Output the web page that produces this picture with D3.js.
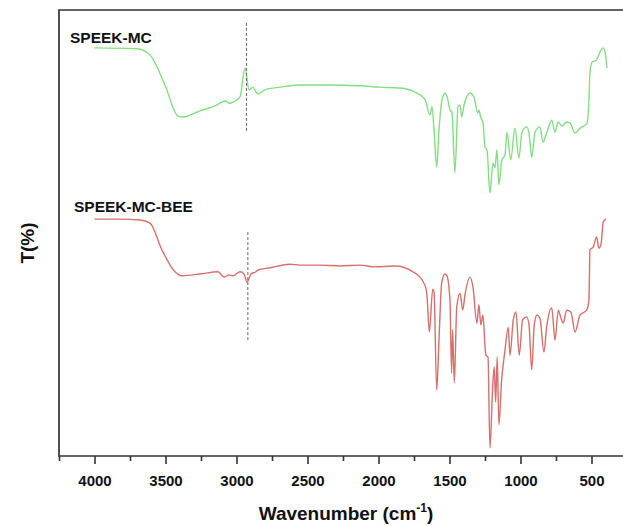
<!DOCTYPE html>
<html><head><meta charset="utf-8">
<script src="https://cdn.jsdelivr.net/npm/d3@7"></script>
<style>html,body{margin:0;padding:0;background:#fff;}svg{display:block;}</style>
</head><body>
<script>
// Wavenumber (cm-1) and relative T(%) values
const mcWave = [4000,3701,3609,3504,3412,3377,3257,3151,3081,3046,3011,2975,2940,2912,2884,2863,2849,2800,2694,2553,2342,2130,1990,1849,1743,1673,1638,1623,1609,1590,1574,1553,1532,1511,1497,1483,1462,1440,1426,1414,1398,1377,1356,1328,1300,1293,1279,1265,1250,1236,1215,1194,1180,1166,1152,1131,1109,1095,1069,1039,1011,990,957,940,921,898,863,842,814,780,757,736,708,675,652,616,581,534,518,511,497,464,440,419,405,391];
const mcT = [91.5,91.3,89.9,83.2,76.2,76.0,77.4,78.5,79.6,79.1,79.6,80.5,87.0,82.1,82.7,81.6,81.2,82.1,82.7,83.2,83.2,83.0,82.7,82.5,81.6,80.0,76.5,78.3,73.1,64.8,73.1,79.8,81.4,79.8,77.6,77.1,63.5,78.3,78.7,76.0,78.7,80.7,81.4,80.5,76.9,77.6,75.8,74.9,69.3,68.6,59.0,65.7,64.6,68.6,60.8,66.4,67.5,72.6,66.4,73.5,66.8,72.6,73.8,72.4,67.0,72.6,73.8,70.4,72.6,75.3,72.6,74.9,74.0,74.9,74.7,72.4,73.5,74.4,79.8,85.9,88.3,88.8,90.6,91.5,90.6,87.0];

const beeWave = [4000,3820,3680,3609,3525,3433,3384,3257,3130,3088,3053,3025,2975,2947,2926,2898,2863,2849,2764,2623,2553,2412,2271,2130,2025,1884,1757,1673,1659,1642,1618,1609,1590,1574,1555,1532,1518,1497,1485,1478,1466,1449,1426,1407,1391,1356,1335,1307,1293,1279,1265,1244,1229,1215,1196,1185,1175,1164,1152,1133,1109,1086,1074,1051,1032,1009,985,957,940,921,903,884,863,835,816,780,757,734,715,699,675,645,616,581,534,518,511,487,464,448,433,417,398];
const beeT = [53.1,53.1,52.9,52.2,46.2,41.3,40.4,40.8,41.3,40.1,40.6,40.4,41.3,40.8,39.0,40.8,41.3,41.7,42.2,43.0,42.8,42.8,42.6,42.8,42.4,42.6,41.3,38.3,36.1,27.8,37.4,36.8,14.8,26.0,38.8,40.8,40.4,35.0,18.6,28.3,16.4,33.4,36.5,32.7,36.1,40.1,37.9,29.8,33.9,29.4,31.6,22.6,22.2,1.8,15.5,20.0,12.1,22.2,7.0,17.0,23.8,28.9,22.6,30.5,32.3,22.6,30.5,31.2,29.4,19.3,29.4,31.6,30.9,23.3,28.9,33.2,26.0,32.7,30.9,29.8,32.7,32.3,27.8,31.6,32.7,35.0,46.2,46.9,49.1,46.6,47.5,52.5,53.1];

const seriesNames = ["SPEEK-MC", "SPEEK-MC-BEE"];
const seriesColors = ["#84dd84", "#d76f6c"];
const markerWave = [2930, 2920];
const markerT = [[97.1, 72.4], [50.2, 25.6]];
const majorTicks = [4000,3500,3000,2500,2000,1500,1000,500];
const minorTicks = [4250,3750,3250,2750,2250,1750,1250,750];

const W = 623, H = 526;
const mLeft = 59, mRight = 627, mTop = 10, mBottom = 456;
const FONT = "Liberation Sans, Arial, sans-serif";

const svg = d3.select("body").append("svg").attr("width", W).attr("height", H);
const x = d3.scaleLinear().domain([4250, 250]).range([mLeft, mRight]);
const y = d3.scaleLinear().domain([0, 100]).range([mBottom, mTop]);

// frame
svg.append("path")
  .attr("d", `M${mRight + 5},${mTop}H${mLeft}V${mBottom}H${mRight + 5}`)
  .attr("fill", "none").attr("stroke", "#333").attr("stroke-width", 1.7);

// x axis ticks
const xAxis = d3.axisBottom(x).tickValues(majorTicks).tickSize(8).tickPadding(11).tickFormat(d3.format("d"));
const gx = svg.append("g").attr("transform", `translate(0,${mBottom})`).call(xAxis);
gx.select(".domain").remove();
gx.selectAll("line").attr("stroke", "#333").attr("stroke-width", 1.6);
gx.selectAll("text").attr("font-family", FONT)
  .attr("font-weight", "bold").attr("font-size", 15).attr("fill", "#111");
const gm = svg.append("g").attr("transform", `translate(0,${mBottom})`)
  .call(d3.axisBottom(x).tickValues(minorTicks).tickSize(5).tickFormat(""));
gm.select(".domain").remove();
gm.selectAll("line").attr("stroke", "#333").attr("stroke-width", 1.6);

// lines
const line = d3.line().x(d => x(d[0])).y(d => y(d[1])).curve(d3.curveMonotoneX);
const data = [d3.zip(mcWave, mcT), d3.zip(beeWave, beeT)];
data.forEach((pts, i) => {
  svg.append("path").datum(pts).attr("d", line)
    .attr("fill", "none").attr("stroke", seriesColors[i]).attr("stroke-width", 1.4);
});

// dashed markers
markerWave.forEach((w, i) => {
  svg.append("line").attr("x1", x(w)).attr("x2", x(w))
    .attr("y1", y(markerT[i][0])).attr("y2", y(markerT[i][1]))
    .attr("stroke", "#666").attr("stroke-width", 1).attr("stroke-dasharray", "3,2");
});

// series labels
const labelPos = [[70, 43], [74, 212]];
seriesNames.forEach((n, i) => {
  svg.append("text").attr("x", labelPos[i][0]).attr("y", labelPos[i][1])
    .attr("font-family", FONT).attr("font-weight", "bold")
    .attr("font-size", 15.5).attr("fill", "#111").text(n);
});

// axis titles
const xt = svg.append("text").attr("x", 346).attr("y", 520).attr("text-anchor", "middle")
  .attr("font-family", FONT).attr("font-weight", "bold")
  .attr("font-size", 19).attr("fill", "#111");
xt.append("tspan").text("Wavenumber (cm");
xt.append("tspan").attr("dy", -8).attr("font-size", 12).text("-1");
xt.append("tspan").attr("dy", 8).text(")");

svg.append("text").attr("transform", "translate(34,243) rotate(-90)").attr("text-anchor", "middle")
  .attr("font-family", FONT).attr("font-weight", "bold")
  .attr("font-size", 19).attr("fill", "#111").text("T(%)");
</script>
</body></html>
